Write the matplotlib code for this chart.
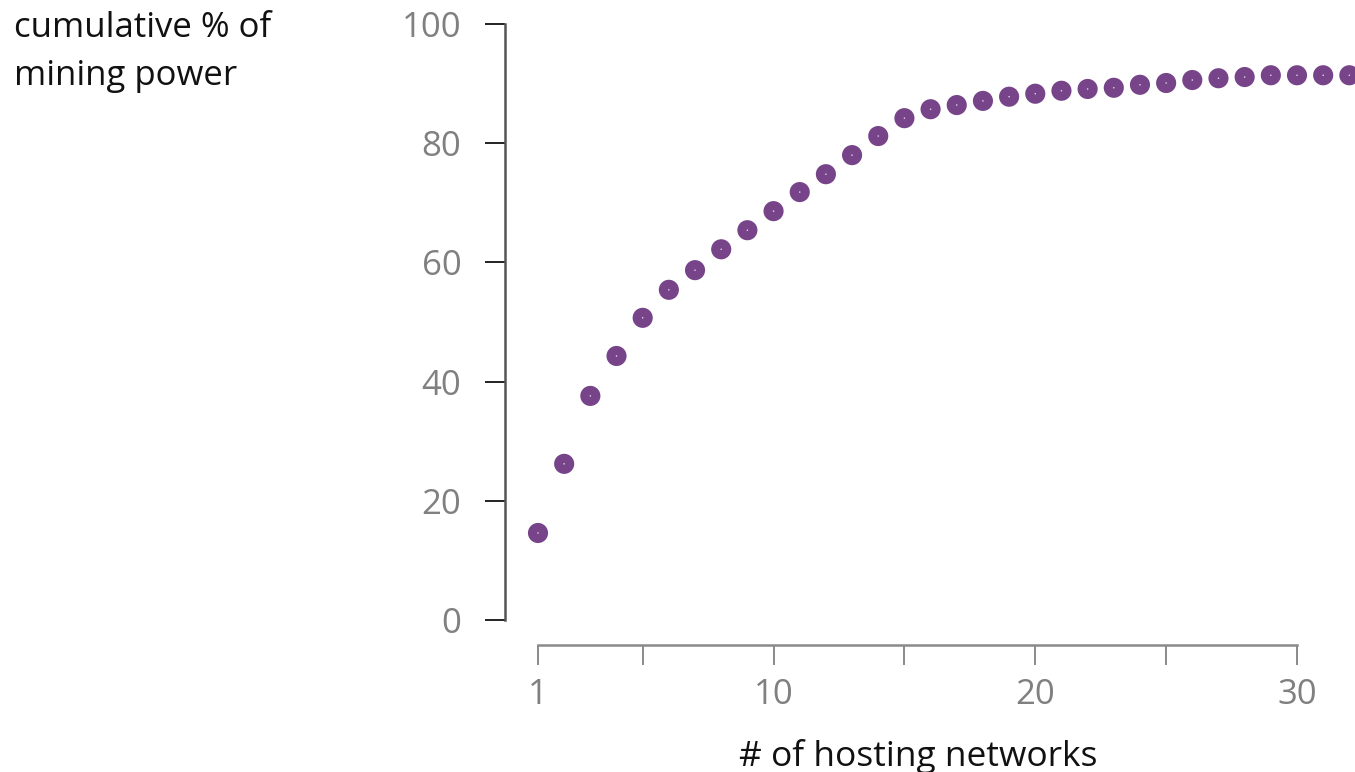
import matplotlib
matplotlib.use("Agg")
import matplotlib.pyplot as plt

plt.rcParams['font.family'] = ['Open Sans', 'DejaVu Sans']

networks = list(range(1, 33))
cum_pct = [14.6, 26.2, 37.6, 44.3, 50.7, 55.4, 58.7, 62.2, 65.4, 68.6,
           71.8, 74.8, 78.0, 81.2, 84.2, 85.7, 86.4, 87.1, 87.8, 88.3,
           88.8, 89.1, 89.3, 89.8, 90.1, 90.6, 90.9, 91.1, 91.4, 91.4,
           91.4, 91.4]
y_ticks = [0, 20, 40, 60, 80, 100]
x_ticks = [1, 5, 10, 15, 20, 25, 30]
x_labels = ["1", "", "10", "", "20", "", "30"]

W, H = 1355, 772
fig = plt.figure(figsize=(W / 100, H / 100), dpi=100)
ax_l, ax_r, ax_t, ax_b = 505, 1355, 0, 645
ax = fig.add_axes([ax_l / W, 1 - ax_b / H, (ax_r - ax_l) / W, (ax_b - ax_t) / H])

pxu_x = (1297 - 538) / 29
pxu_y = (620 - 24) / 100
ax.set_xlim(1 - (538 - ax_l) / pxu_x, 1 + (ax_r - 538) / pxu_x)
ax.set_ylim(-(ax_b - 620) / pxu_y, 100 + (24 - ax_t) / pxu_y)

ax.scatter(networks, cum_pct, s=210, color='#77448a', edgecolors='none', clip_on=False, zorder=3)
ax.scatter(networks, cum_pct, s=1.2, color='#e8d8ee', edgecolors='none', clip_on=False, zorder=4)

for s in ['top', 'right']:
    ax.spines[s].set_visible(False)
ax.spines['left'].set_bounds(0, 100)
ax.spines['left'].set_color('#555555')
ax.spines['left'].set_linewidth(1.8)
ax.spines['bottom'].set_bounds(1, 30)
ax.spines['bottom'].set_color('#8a8a8a')
ax.spines['bottom'].set_linewidth(1.8)

ax.set_yticks(y_ticks)
ax.set_yticklabels([str(v) for v in y_ticks])
ax.set_xticks(x_ticks)
ax.set_xticklabels(x_labels)
ax.tick_params(axis='y', length=14.4, width=1.4, color='#222222', pad=17,
               labelsize=25, labelcolor='#808080')
ax.tick_params(axis='x', length=14.4, width=1.4, color='#8a8a8a', pad=9,
               labelsize=25, labelcolor='#808080')

fig.text(14 / W, 1 - 11 / H, "cumulative % of\nmining power", ha='left', va='top',
         fontsize=25, color='#111111', linespacing=1.55)
fig.text(918 / W, 1 - 757 / H, "# of hosting networks", ha='center', va='center',
         fontsize=25.5, color='#111111')

fig.savefig("out.png", dpi=100)
